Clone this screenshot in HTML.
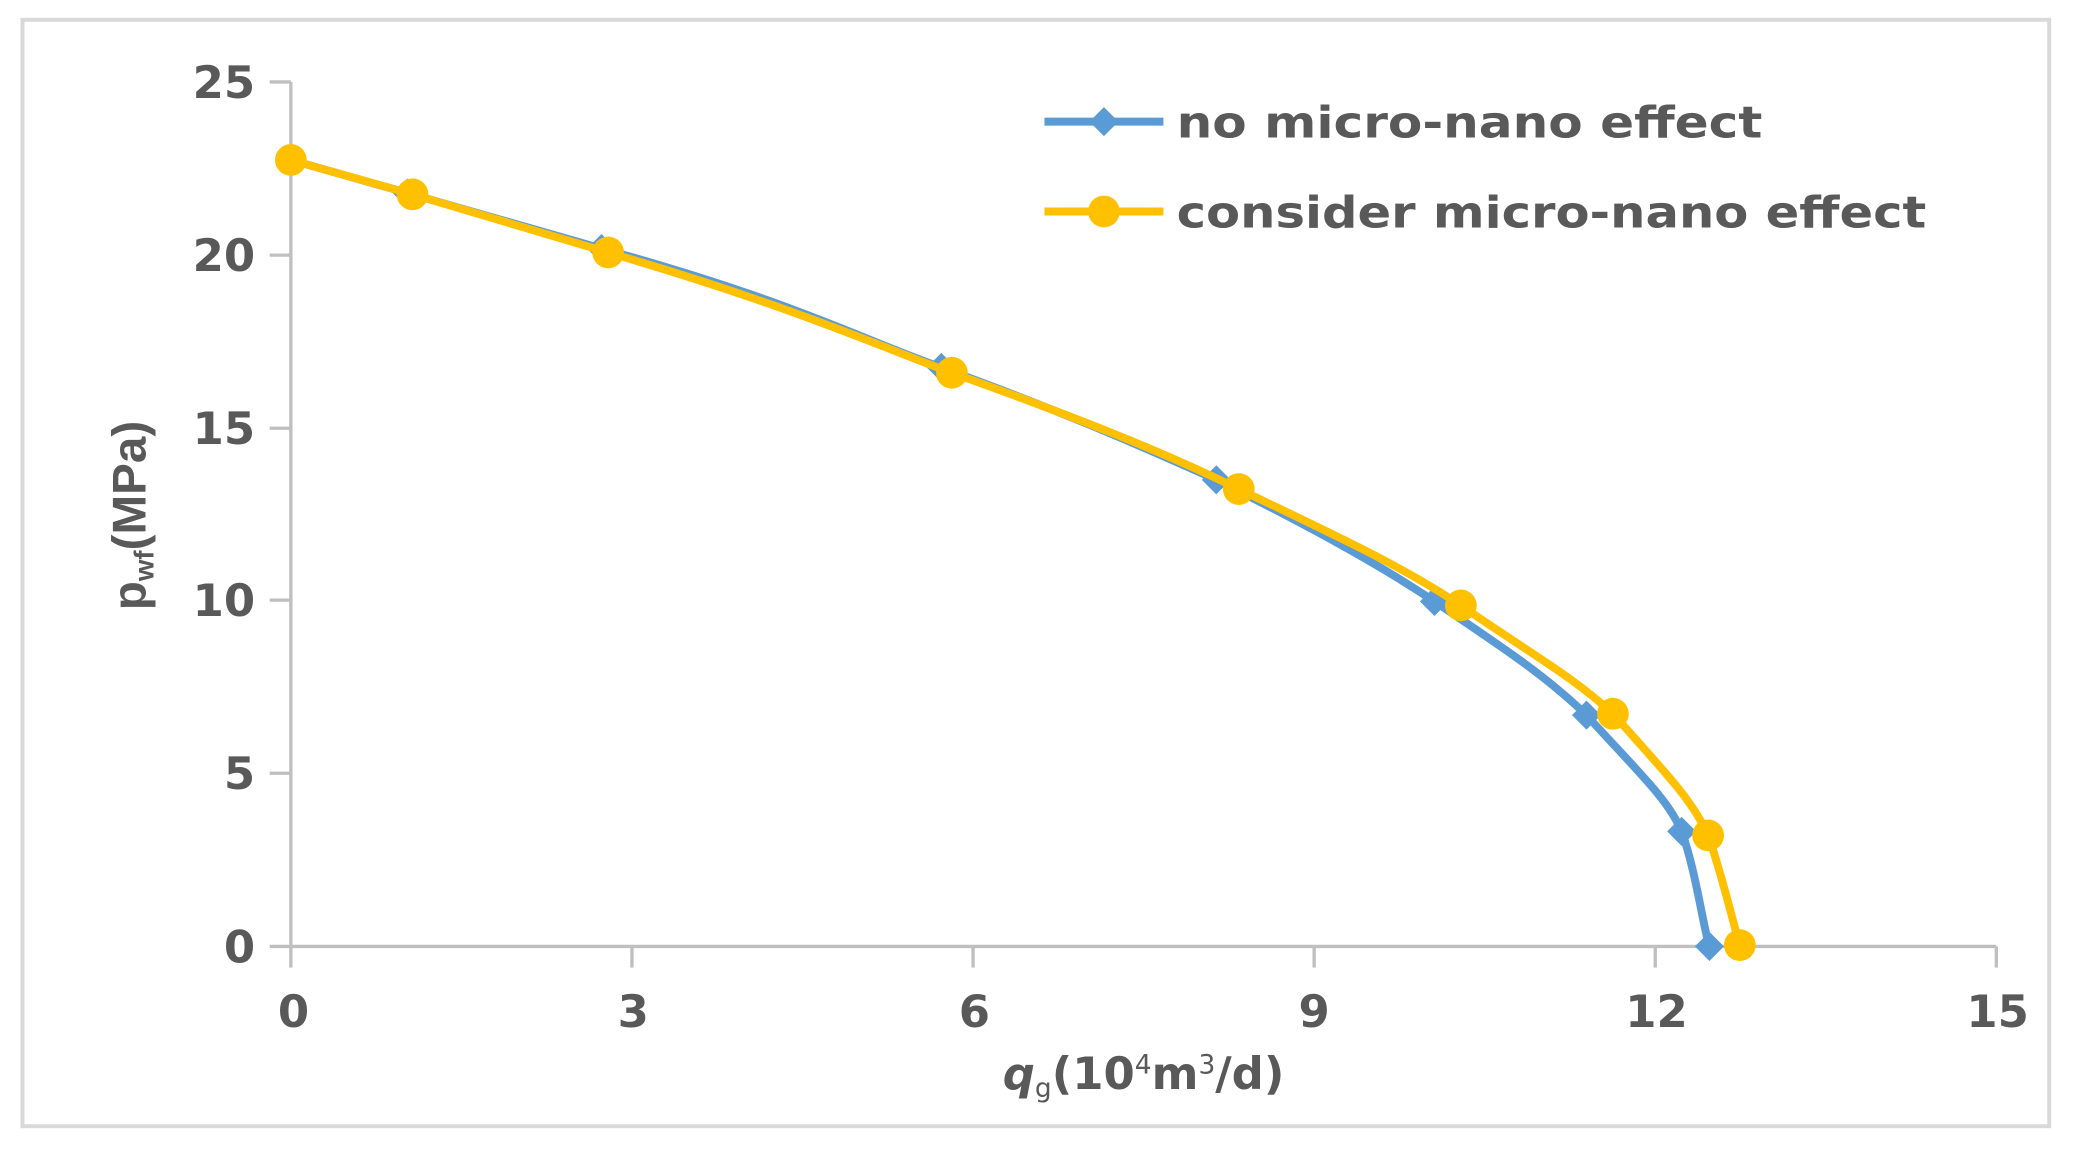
<!DOCTYPE html>
<html><head><meta charset="utf-8"><style>html,body{margin:0;padding:0;background:#fff}svg{display:block}</style></head>
<body>
<svg width="2073" height="1150" viewBox="0 0 1568 870" preserveAspectRatio="none" xmlns="http://www.w3.org/2000/svg" font-family="'DejaVu Sans', 'Liberation Sans', sans-serif" font-weight="bold" fill="#595959">
<rect x="17" y="15" width="1533" height="837" fill="#fff" stroke="#d9d9d9" stroke-width="3"/>
<g stroke="#bfbfbf" stroke-width="2.5" fill="none">
<line x1="220" y1="62" x2="220" y2="716"/>
<line x1="220" y1="716" x2="1510" y2="716"/>
<line x1="204" y1="62" x2="220" y2="62"/>
<line x1="204" y1="193" x2="220" y2="193"/>
<line x1="204" y1="324" x2="220" y2="324"/>
<line x1="204" y1="454" x2="220" y2="454"/>
<line x1="204" y1="585" x2="220" y2="585"/>
<line x1="204" y1="716" x2="220" y2="716"/>
<line x1="220" y1="716" x2="220" y2="732"/>
<line x1="478" y1="716" x2="478" y2="732"/>
<line x1="736" y1="716" x2="736" y2="732"/>
<line x1="994" y1="716" x2="994" y2="732"/>
<line x1="1252" y1="716" x2="1252" y2="732"/>
<line x1="1510" y1="716" x2="1510" y2="732"/>
</g>
<g font-size="34" text-anchor="end">
<text x="193" y="74">25</text><text x="193" y="205">20</text><text x="193" y="336">15</text>
<text x="193" y="466">10</text><text x="193" y="597">5</text><text x="193" y="728">0</text>
</g>
<g font-size="34" text-anchor="middle">
<text x="222" y="777">0</text><text x="479" y="777">3</text><text x="737" y="777">6</text>
<text x="994" y="777">9</text><text x="1253" y="777">12</text><text x="1511" y="777">15</text>
</g>
<text transform="translate(110,390) rotate(-90)" text-anchor="middle" font-size="36" font-family="'Liberation Sans', sans-serif">p<tspan font-size="21" dy="6">wf</tspan><tspan dy="-6">(MPa)</tspan></text>
<text x="865" y="824" text-anchor="middle" font-size="34"><tspan font-style="italic">q</tspan><tspan font-size="20" dy="6" font-weight="normal">g</tspan><tspan dy="-6">(10</tspan><tspan font-size="20" dy="-12" font-weight="normal">4</tspan><tspan dy="12">m</tspan><tspan font-size="20" dy="-12" font-weight="normal">3</tspan><tspan dy="12">/d)</tspan></text>
<path d="M220,121 L308,146 L455,188 C600,228 650,256 712,278 C800,310 860,336 920,363 C990,398 1040,425 1085,455 C1140,492 1170,512 1200,541 C1240,585 1262,605 1272,629 C1283,660 1288,700 1293,716" fill="none" stroke="#5b9bd5" stroke-width="6" stroke-linejoin="round"/>
<g fill="#5b9bd5">
<path d="M220,110 l11,11 -11,11 -11,-11z"/><path d="M308,135 l11,11 -11,11 -11,-11z"/><path d="M455,177 l11,11 -11,11 -11,-11z"/>
<path d="M712,267 l11,11 -11,11 -11,-11z"/><path d="M920,352 l11,11 -11,11 -11,-11z"/><path d="M1085,444 l11,11 -11,11 -11,-11z"/>
<path d="M1200,530 l11,11 -11,11 -11,-11z"/><path d="M1272,618 l11,11 -11,11 -11,-11z"/><path d="M1293,705 l11,11 -11,11 -11,-11z"/>
</g>
<path d="M220,121 L312,147 L460,191 C600,232 660,260 720,282 C820,318 880,342 937,370 C1010,405 1060,428 1105,458 C1160,496 1190,512 1220,540 C1260,585 1280,605 1292,632 C1302,660 1310,695 1316,715" fill="none" stroke="#ffc000" stroke-width="6" stroke-linejoin="round"/>
<g fill="#ffc000">
<circle cx="220" cy="121" r="12"/><circle cx="312" cy="147" r="12"/><circle cx="460" cy="191" r="12"/>
<circle cx="720" cy="282" r="12"/><circle cx="937" cy="370" r="12"/><circle cx="1105" cy="458" r="12"/>
<circle cx="1220" cy="540" r="12"/><circle cx="1292" cy="632" r="12"/><circle cx="1316" cy="715" r="12"/>
</g>
<line x1="790" y1="92" x2="880" y2="92" stroke="#5b9bd5" stroke-width="6"/>
<path d="M835,81 l11,11 -11,11 -11,-11z" fill="#5b9bd5"/>
<line x1="790" y1="160" x2="880" y2="160" stroke="#ffc000" stroke-width="6"/>
<circle cx="835" cy="160" r="12" fill="#ffc000"/>
<g font-size="33"><text x="890" y="104" textLength="443" lengthAdjust="spacingAndGlyphs">no micro-nano effect</text><text x="890" y="172" textLength="567" lengthAdjust="spacingAndGlyphs">consider micro-nano effect</text></g>
</svg>
</body></html>
